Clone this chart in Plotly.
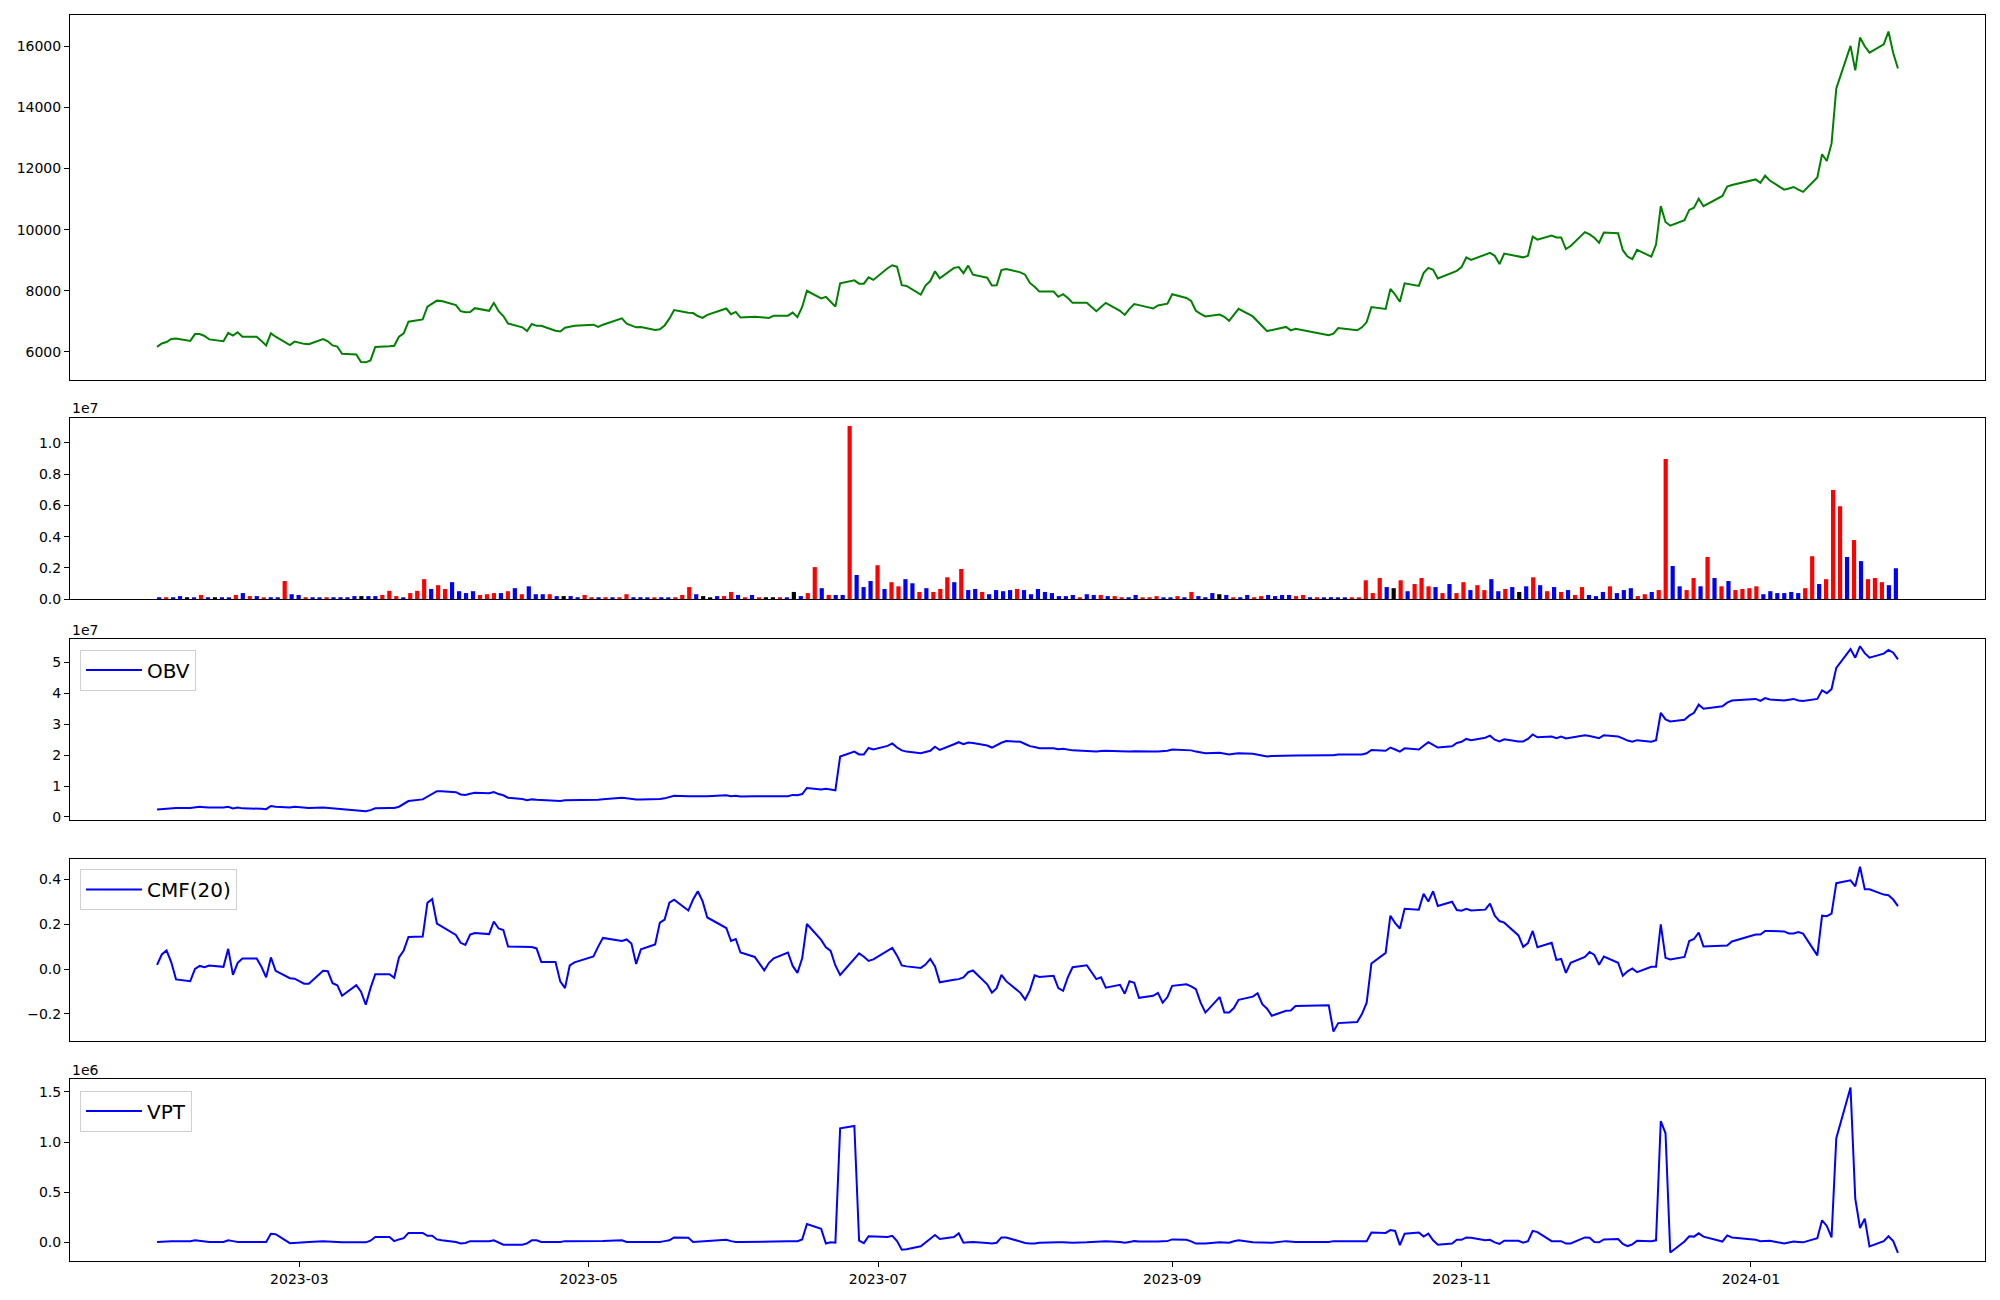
import pandas as pd
import plotly.graph_objects as go

# ---------------- data ----------------
holidays = ["2023-03-01", "2023-05-01", "2023-05-05", "2023-05-29", "2023-06-06", "2023-08-15",
            "2023-09-28", "2023-09-29", "2023-10-02", "2023-10-03", "2023-10-09", "2023-12-25",
            "2023-12-29", "2024-01-01"]
dates = [d for d in pd.bdate_range("2023-01-30", "2024-02-01") if d.strftime("%Y-%m-%d") not in holidays]

close = [
    6164, 6275, 6324, 6423, 6435, 6361, 6583, 6583, 6521, 6410, 6349, 6620, 6533, 6644, 6497, 6497, 6361, 6213, 6607, 6497, 6226, 6337,
    6263, 6250, 6423, 6349, 6213, 6176, 5942, 5918, 5672, 5659, 5721, 6164, 6189, 6201, 6497, 6607, 6989, 7063, 7481, 7592, 7678, 7666,
    7531, 7334, 7297, 7309, 7432, 7346, 7605, 7334, 7174, 6927, 6804, 6681, 6915, 6853, 6853, 6693, 6669, 6792, 6829, 6853,
    6891, 6817, 6891, 7100, 6927, 6853, 6804, 6817, 6718, 6743, 6866, 7088, 7371, 7285, 7272, 7174, 7112, 7211, 7420, 7235,
    7309, 7124, 7149, 7124, 7112, 7186, 7186, 7285, 7137, 7469, 7999, 7752, 7802, 7642, 7481, 8245,
    8343, 8233, 8233, 8442, 8356,
    8737, 8836, 8787, 8183, 8158, 7875, 8171, 8319, 8639, 8405, 8750, 8774, 8577, 8824, 8528, 8430, 8171, 8183, 8676, 8713, 8602,
    8528, 8257, 8134, 7974, 7974, 7802, 7888, 7765, 7605, 7605, 7334, 7469, 7605, 7346, 7211, 7408, 7568, 7531, 7420, 7518, 7543, 7580,
    7888, 7765, 7666, 7346, 7248, 7161, 7223, 7149, 7014, 7223, 7408, 7161, 7014, 6841, 6681, 6718, 6817, 6706, 6755,
    6546, 6595, 6780, 6706, 6804, 6977, 7469, 7408, 8060, 7875, 7642, 8245, 8158, 8577, 8750, 8688, 8405, 8590, 8651,
    8774, 9090, 9008, 9193, 9242, 9144, 8873, 9218, 9107, 9094, 9144, 9772, 9673, 9809, 9747, 9747, 9365, 9464, 9919, 9846, 9735, 9575,
    9907, 9882, 9328, 9119, 9033, 9341, 9119, 9513, 10769, 10252, 10129, 10313, 10646, 10720, 11015, 10769, 11102, 11409, 11459,
    11643, 11532, 11766, 11606, 11311, 11348, 11397, 11311, 11237, 11705, 12468, 12247, 12813, 14623, 16014, 15214, 16285, 16002,
    15793, 16064, 16482, 15780, 15276,
]

volume_k = [
    120, 120, 120, 193, 120, 72, 265, 120, 120, 120,
    72, 265, 385, 193, 193, 72, 120, 120, 1156, 313,
    265, 120, 120, 72, 120, 120, 120, 120, 193, 193,
    193, 193, 265, 530, 193, 72, 385, 530, 1277, 650,
    891, 650, 1084, 506, 385, 506, 265, 313, 385, 385,
    506, 699, 313, 819, 313, 313, 313, 193, 193, 193,
    120, 265, 120, 120, 120, 120, 120, 313, 120, 120,
    72, 72, 120, 72, 120, 265, 771, 313, 193, 72,
    193, 193, 458, 265, 120, 265, 72, 120, 120, 120,
    72, 458, 193, 385, 2048, 699, 265, 265, 265, 11082,
    1542, 771, 1156, 2168, 650, 1084, 819, 1277, 1012, 458,
    699, 458, 650, 1397, 1084, 1927, 578, 650, 458, 313,
    578, 506, 578, 650, 578, 313, 650, 458, 385, 193,
    193, 265, 120, 313, 265, 265, 193, 193, 120, 120,
    265, 72, 120, 193, 72, 72, 193, 120, 458, 193,
    120, 385, 313, 265, 120, 120, 265, 120, 193, 265,
    193, 265, 265, 193, 265, 120, 120, 72, 120, 72,
    72, 120, 72, 1205, 385, 1349, 771, 699, 1205, 506,
    964, 1349, 819, 771, 385, 964, 385, 1084, 578, 891,
    578, 1277, 506, 650, 771, 458, 819, 1397, 891, 506,
    771, 458, 578, 265, 771, 265, 193, 458, 819, 385,
    578, 699, 193, 313, 458, 578, 8962, 2120, 819, 578,
    1349, 819, 2698, 1349, 819, 1156, 578, 650, 699, 819,
    313, 506, 385, 385, 458, 385, 699, 2746, 964, 1277,
    6986, 5950, 2698, 3782, 2433, 1277, 1349, 1084, 891, 1975,
]

# r = up (red), b = down (blue), k = unchanged (black)
volume_dir = list(
    "brbbkbrbkb" "brbrbrbbrb" "brbbrbbbbk" "bbrrrbrrrb" "rrbbbbrrrb" "rbrbbbrbkb"
    "brrbrbrrbb" "brbbrrrbkk" "brrbrbrkkr" "bkbrrbrbbr" "bbbrbrrbbr" "brrrbrbbrb"
    "bbbrbbbbbb" "bbrbbrbrrb" "brrrbbrbrb" "bbkbrbbrrb" "bbbrrbrbbb" "brrrrrbkrb"
    "rrrbrbrrbr" "rbbrbkbrbr" "brbrrbbbrb" "bbrrbrrbbr" "rbrbrbrrrr" "bbbbbbrrbr"
    "rrbrbrrrbb"
)

obv_1e7 = [
    0.237, 0.25, 0.27, 0.285, 0.289, 0.289, 0.31, 0.329, 0.315, 0.303, 0.303, 0.329, 0.276, 0.303, 0.276, 0.276, 0.263, 0.25, 0.355, 0.33, 0.303, 0.329,
    0.31, 0.289, 0.303, 0.29, 0.27, 0.26, 0.25, 0.228, 0.21, 0.184, 0.22, 0.276, 0.289, 0.29, 0.329, 0.408, 0.514, 0.567, 0.646, 0.725, 0.831, 0.831,
    0.80, 0.725, 0.712, 0.752, 0.778, 0.765, 0.805, 0.739, 0.699, 0.62, 0.58, 0.541, 0.567, 0.554, 0.55, 0.527, 0.514, 0.541, 0.54, 0.54,
    0.554, 0.554, 0.57, 0.62, 0.60, 0.575, 0.567, 0.567, 0.567, 0.58, 0.60, 0.633, 0.686, 0.672, 0.665, 0.659, 0.659, 0.665, 0.699, 0.672,
    0.686, 0.659, 0.665, 0.662, 0.659, 0.665, 0.672, 0.712, 0.699, 0.739, 0.937, 0.884, 0.911, 0.885, 0.858, 1.955,
    2.113, 2.021, 2.021, 2.232, 2.179,
    2.298, 2.378, 2.245, 2.153, 2.113, 2.061, 2.10, 2.140, 2.272, 2.166, 2.35, 2.417, 2.351, 2.404, 2.39, 2.311, 2.245, 2.325, 2.40, 2.457, 2.430,
    2.36, 2.29, 2.259, 2.219, 2.219, 2.193, 2.206, 2.18, 2.153, 2.13, 2.113, 2.13, 2.140, 2.127, 2.113, 2.12, 2.127, 2.12, 2.113, 2.12, 2.13, 2.140,
    2.179, 2.166, 2.153, 2.113, 2.08, 2.061, 2.074, 2.05, 2.021, 2.04, 2.061, 2.047, 2.02, 1.99, 1.955, 1.97, 1.994, 1.981, 1.99,
    1.994, 1.994, 2.02, 2.02, 2.02, 2.061, 2.166, 2.140, 2.245, 2.18, 2.113, 2.219, 2.179, 2.30, 2.417, 2.33, 2.245, 2.285, 2.391,
    2.430, 2.523, 2.483, 2.563, 2.629, 2.497, 2.444, 2.510, 2.444, 2.444, 2.523, 2.668, 2.576, 2.60, 2.549, 2.602, 2.536, 2.56, 2.642, 2.62, 2.59, 2.549,
    2.642, 2.602, 2.54, 2.470, 2.430, 2.483, 2.430, 2.483, 3.369, 3.157, 3.091, 3.144, 3.276, 3.369, 3.633, 3.501, 3.58, 3.699, 3.765,
    3.818, 3.752, 3.845, 3.80, 3.765, 3.79, 3.818, 3.77, 3.752, 3.818, 4.096, 4.003, 4.136, 4.823, 5.431, 5.153, 5.523, 5.299,
    5.153, 5.285, 5.404, 5.312, 5.100,
]

cmf20 = [
    0.019, 0.065, 0.083, 0.03, -0.046, -0.054, 0.001, 0.014, 0.008, 0.016, 0.010, 0.090, -0.026, 0.028, 0.047, 0.047, 0.01, -0.037, 0.052, -0.008, -0.041, -0.043,
    -0.065, -0.065, -0.008, -0.010, -0.063, -0.072, -0.119, -0.072, -0.101, -0.159, -0.085, -0.023, -0.023, -0.039, 0.052, 0.083, 0.143, 0.145, 0.296, 0.312, 0.203, 0.19,
    0.152, 0.117, 0.108, 0.154, 0.161, 0.156, 0.212, 0.181, 0.174, 0.101, 0.101, 0.101, 0.098, 0.092, 0.032, 0.032, -0.055, -0.085, 0.016, 0.03,
    0.056, 0.10, 0.139, 0.125, 0.132, 0.114, 0.023, 0.088, 0.110, 0.207, 0.221, 0.296, 0.309, 0.261, 0.310, 0.347, 0.303, 0.230, 0.183, 0.125,
    0.134, 0.074, 0.054, -0.006, 0.028, 0.048, 0.074, 0.014, -0.017, 0.048, 0.201, 0.130, 0.097, 0.081, 0.016, -0.026,
    0.045, 0.070, 0.055, 0.036, 0.043,
    0.08, 0.094, 0.06, 0.016, 0.012, 0.005, 0.02, 0.045, 0.012, -0.059, -0.048, -0.045, -0.037, -0.014, -0.006, -0.068, -0.105, -0.085, -0.026, -0.054, -0.106,
    -0.136, -0.095, -0.028, -0.035, -0.030, -0.085, -0.097, -0.037, 0.008, 0.017, -0.045, -0.037, -0.083, -0.070, -0.110, -0.054, -0.061, -0.128, -0.119, -0.106, -0.150, -0.125,
    -0.075, -0.068, -0.077, -0.090, -0.15, -0.194, -0.125, -0.194, -0.194, -0.174, -0.137, -0.123, -0.108, -0.157, -0.177, -0.208, -0.186, -0.185, -0.165,
    -0.161, -0.279, -0.241, -0.236, -0.201, -0.150, 0.025, 0.072, 0.238, 0.205, 0.181, 0.269, 0.265, 0.336, 0.301, 0.347, 0.281, 0.300, 0.263,
    0.260, 0.269, 0.261, 0.265, 0.292, 0.238, 0.214, 0.207, 0.150, 0.099, 0.116, 0.170, 0.097, 0.117, 0.041, 0.045, -0.017, 0.028, 0.054, 0.076, 0.063, 0.019,
    0.056, 0.028, -0.030, -0.010, 0.003, -0.014, 0.010, 0.010, 0.199, 0.050, 0.043, 0.054, 0.125, 0.134, 0.163, 0.101, 0.103, 0.105, 0.123,
    0.154, 0.154, 0.170, 0.170, 0.168, 0.159, 0.159, 0.165, 0.158, 0.061, 0.238, 0.236, 0.247, 0.383, 0.396, 0.369, 0.456, 0.356,
    0.356, 0.332, 0.329, 0.310, 0.281,
]

vpt_1e6 = [
    0.004, 0.008, 0.010, 0.012, 0.012, 0.012, 0.02, 0.016, 0.008, 0.004, 0.004, 0.020, 0.012, 0.004, 0.004, 0.004, 0.004, 0.004, 0.085, 0.081, -0.008, -0.004,
    0.000, 0.004, 0.012, 0.008, 0.004, 0.000, 0.000, 0.000, 0.000, 0.000, 0.016, 0.053, 0.053, 0.012, 0.029, 0.041, 0.094, 0.094, 0.065, 0.065, 0.029, 0.02,
    0.004, -0.012, -0.006, 0.012, 0.012, 0.012, 0.020, 0.0, -0.024, -0.024, -0.024, -0.010, 0.020, 0.020, 0.004, 0.004, 0.004, 0.012, 0.012, 0.012,
    0.012, 0.012, 0.014, 0.020, 0.004, 0.004, 0.004, 0.004, 0.004, 0.004, 0.012, 0.020, 0.049, 0.045, 0.004, 0.008, 0.012, 0.016, 0.025, 0.012,
    0.004, 0.004, 0.004, 0.004, 0.006, 0.008, 0.012, 0.012, 0.012, 0.029, 0.183, 0.134, -0.012, 0.000, -0.004, 1.136,
    1.160, 0.016, -0.008, 0.061, 0.058,
    0.053, 0.065, 0.012, -0.073, -0.069, -0.04, -0.004, 0.03, 0.073, 0.033, 0.053, 0.090, -0.004, 0.000, 0.004, -0.006, -0.012, -0.004, 0.049, 0.049, 0.004,
    -0.006, -0.012, -0.012, -0.004, 0.004, 0.002, 0.0, -0.002, -0.004, 0.0, 0.004, 0.008, 0.012, 0.004, -0.004, 0.004, 0.012, 0.008, 0.004, 0.008, 0.010, 0.012,
    0.029, 0.025, 0.010, -0.012, -0.012, -0.012, 0.000, -0.004, -0.004, 0.010, 0.020, 0.000, 0.000, -0.002, -0.004, -0.003, 0.012, 0.008, 0.004,
    0.004, 0.012, 0.012, 0.012, 0.012, 0.012, 0.098, 0.094, 0.122, 0.114, -0.028, 0.086, 0.098, 0.057, 0.086, 0.02, -0.024, -0.012, 0.025,
    0.025, 0.049, 0.045, 0.020, 0.025, 0.0, -0.016, 0.016, 0.016, -0.004, 0.012, 0.114, 0.102, 0.012, 0.012, 0.012, -0.012, -0.012, 0.049, 0.045, 0.004, 0.000,
    0.029, 0.033, -0.016, -0.037, -0.02, 0.016, 0.012, 0.020, 1.209, 1.087, -0.102, 0.008, 0.061, 0.057, 0.090, 0.057, 0.008, 0.069, 0.049,
    0.025, 0.012, 0.014, 0.016, -0.012, 0.000, 0.008, 0.004, 0.000, 0.041, 0.220, 0.163, 0.049, 1.038, 1.543, 0.436, 0.143, 0.236,
    -0.041, 0.012, 0.061, 0.012, -0.106,
]

price_ticks = [6000, 8000, 10000, 12000, 14000, 16000]
vol_ticks = [0.0, 0.2, 0.4, 0.6, 0.8, 1.0]          # x 1e7
obv_ticks = [0, 1, 2, 3, 4, 5]                        # x 1e7
cmf_ticks = [-0.2, 0.0, 0.2, 0.4]
vpt_ticks = [0.0, 0.5, 1.0, 1.5]                      # x 1e6

# ---------------- figure ----------------
W, H = 2000, 1300
XL, XR = 70 / W, 1985 / W


def ydom(top, bottom):
    return [1 - bottom / H, 1 - top / H]


font = dict(family="DejaVu Sans", size=14, color="black")
bar_idx = list(range(len(volume_k)))
volume = [v * 1000 for v in volume_k]
cmap = {"r": "red", "b": "blue", "k": "black"}
bar_colors = [cmap[c] for c in volume_dir]

span = dates[-1] - dates[0]
xr = [dates[0] - span * 0.05, dates[-1] + span * 0.05]
n = len(volume_k)
bw = 0.6
bspan = (n - 1) + bw
xr_bar = [-bw / 2 - 0.05 * bspan, n - 1 + bw / 2 + 0.05 * bspan]

fig = go.Figure()
fig.add_trace(go.Scatter(x=dates, y=close, mode="lines", line=dict(color="green", width=2),
                         xaxis="x", yaxis="y", showlegend=False))
fig.add_trace(go.Bar(x=bar_idx, y=volume, width=bw, marker=dict(color=bar_colors, line=dict(width=0)),
                     xaxis="x2", yaxis="y2", showlegend=False))
fig.add_trace(go.Scatter(x=dates, y=obv_1e7, mode="lines", name="OBV", line=dict(color="blue", width=2),
                         xaxis="x3", yaxis="y3", legend="legend"))
fig.add_trace(go.Scatter(x=dates, y=cmf20, mode="lines", name="CMF(20)", line=dict(color="blue", width=2),
                         xaxis="x4", yaxis="y4", legend="legend2"))
fig.add_trace(go.Scatter(x=dates, y=vpt_1e6, mode="lines", name="VPT", line=dict(color="blue", width=2),
                         xaxis="x5", yaxis="y5", legend="legend3"))

frame = dict(showline=True, mirror=True, linecolor="black", linewidth=1, showgrid=False, zeroline=False,
             tickfont=font, automargin=False)
xhide = dict(frame, showticklabels=False, ticks="")
yst = dict(frame, ticks="outside", ticklen=5, tickwidth=1, tickcolor="black")

legend_style = dict(bgcolor="rgba(255,255,255,0.8)", bordercolor="#d0d0d0", borderwidth=1,
                    font=dict(family="DejaVu Sans", size=20, color="black"),
                    itemwidth=56,
                    xanchor="left", yanchor="top", x=80 / W)

fig.update_layout(
    width=W, height=H, margin=dict(l=0, r=0, t=0, b=0, autoexpand=False),
    paper_bgcolor="white", plot_bgcolor="white", font=font,
    xaxis=dict(xhide, domain=[XL, XR], range=xr, type="date", anchor="y"),
    xaxis2=dict(xhide, domain=[XL, XR], range=xr_bar, type="linear", anchor="y2"),
    xaxis3=dict(xhide, domain=[XL, XR], range=xr, type="date", anchor="y3"),
    xaxis4=dict(xhide, domain=[XL, XR], range=xr, type="date", anchor="y4"),
    xaxis5=dict(frame, domain=[XL, XR], range=xr, type="date", anchor="y5",
                ticks="outside", ticklen=5, tickwidth=1, tickcolor="black",
                tick0="2023-03-01", dtick="M2", tickformat="%Y-%m"),
    yaxis=dict(yst, domain=ydom(15, 379.6), range=[5094, 17024], tickvals=price_ticks,
               ticktext=[str(t) for t in price_ticks], anchor="x"),
    yaxis2=dict(yst, domain=ydom(418.3, 599.1), range=[0, 1.1575e7],
                tickvals=[t * 1e7 for t in vol_ticks], ticktext=[f"{t:.1f}" for t in vol_ticks], anchor="x2"),
    yaxis3=dict(yst, domain=ydom(638.6, 820.3), range=[-0.11, 5.77],
                tickvals=obv_ticks, ticktext=[str(t) for t in obv_ticks], anchor="x3"),
    yaxis4=dict(yst, domain=ydom(859.4, 1040.6), range=[-0.319, 0.489],
                tickvals=cmf_ticks, ticktext=[f"{t:.1f}".replace("-", "\u2212") for t in cmf_ticks], anchor="x4"),
    yaxis5=dict(yst, domain=ydom(1078.8, 1261.0), range=[-0.186, 1.630],
                tickvals=vpt_ticks, ticktext=[f"{t:.1f}" for t in vpt_ticks], anchor="x5"),
    legend=dict(legend_style, y=1 - 649.5 / H),
    legend2=dict(legend_style, y=1 - 869 / H),
    legend3=dict(legend_style, y=1 - 1090.5 / H),
    annotations=[
        dict(text="1e7", x=XL, y=1 - 408 / H, xref="paper", yref="paper", xanchor="left", yanchor="middle",
             showarrow=False, font=font),
        dict(text="1e7", x=XL, y=1 - 629.5 / H, xref="paper", yref="paper", xanchor="left", yanchor="middle",
             showarrow=False, font=font),
        dict(text="1e6", x=XL, y=1 - 1070 / H, xref="paper", yref="paper", xanchor="left", yanchor="middle",
             showarrow=False, font=font),
    ],
)

fig.write_html("out.html", config={"displayModeBar": False},
               post_script="document.body.style.margin='0px';document.body.style.overflow='hidden';")
